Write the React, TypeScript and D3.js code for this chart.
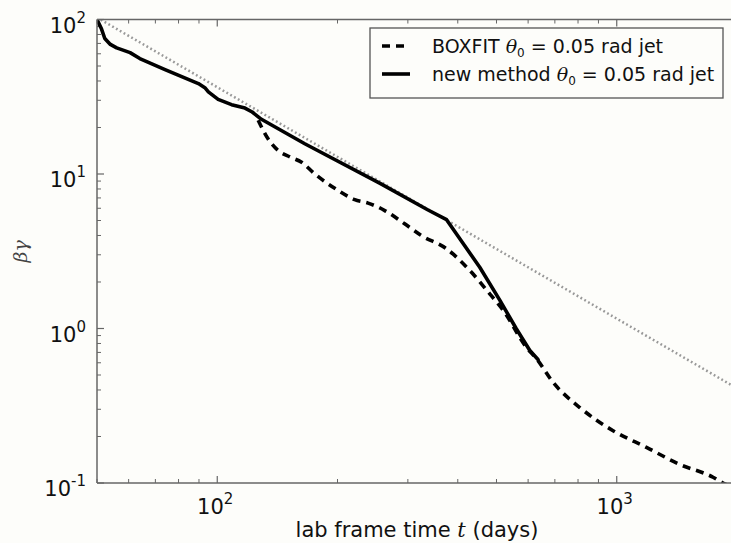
import React from "react";
import * as d3 from "d3";

const solidT = [50, 51.3, 52.3, 54, 56, 60.5, 64, 74, 89.7, 93.1, 95, 100.5, 108.6, 117.3, 122.3, 129, 165.6, 255.6, 337, 375, 454, 510, 560, 606, 635];
const solidV = [100, 87, 75.3, 69, 65.5, 61, 55.9, 47.4, 38.5, 36.2, 34, 30.4, 28.1, 26.7, 25.2, 22.6, 15.7, 8.7, 5.85, 5.06, 2.49, 1.52, 1.0, 0.72, 0.63];

const dashT = [126.6, 134, 142, 152, 162.6, 175.5, 200.7, 220.8, 238.5, 262.6, 294.5, 324, 375, 429, 481.5, 520, 594, 630, 693, 808, 979, 1187, 1437, 1742, 1845, 2000];
const dashV = [22.3, 16.9, 14.2, 12.9, 11.9, 10.0, 7.83, 6.82, 6.48, 5.8, 4.76, 4.0, 3.28, 2.37, 1.67, 1.31, 0.755, 0.636, 0.448, 0.308, 0.218, 0.17, 0.132, 0.109, 0.1, 0.092];

const dotT = [50, 2000];
const dotV = [103, 0.41];

const xMajor = [100, 1000];
const xMajorExp = ["2", "3"];
const yMajor = [0.1, 1, 10, 100];
const yMajorExp = ["-1", "0", "1", "2"];

const legendLabels = ["BOXFIT", "new method"];

export default function App() {
  const W = 731, H = 543;
  const L = 97, R = 737, T = 19.5, B = 483;
  const x = d3.scaleLog().domain([50, 2000]).range([L, R]);
  const y = d3.scaleLog().domain([0.1, 100]).range([B, T]);

  const lineLin = d3
    .line<[number, number]>()
    .x((d) => x(d[0]))
    .y((d) => y(d[1]));
  const lineSmooth = d3
    .line<[number, number]>()
    .x((d) => x(d[0]))
    .y((d) => y(d[1]))
    .curve(d3.curveMonotoneX);

  const solid = lineLin(solidT.map((t, i) => [t, solidV[i]]) as [number, number][]) || "";
  const dashed = lineSmooth(dashT.map((t, i) => [t, dashV[i]]) as [number, number][]) || "";
  const dotted = lineLin(dotT.map((t, i) => [t, dotV[i]]) as [number, number][]) || "";

  const xMinor: number[] = [];
  for (let dec = 10; dec <= 1000; dec *= 10) {
    for (let k = 2; k <= 9; k++) {
      const v = k * dec;
      if (v >= 50 && v <= 2000) xMinor.push(v);
    }
  }
  const yMinor: number[] = [];
  for (let dec = 0.1; dec < 100; dec *= 10) {
    for (let k = 2; k <= 9; k++) yMinor.push(k * dec);
  }

  const axisColor = "#666";
  const font = "'DejaVu Sans', sans-serif";

  return (
    <svg width={W} height={H} style={{ position: "absolute", left: 0, top: 0, background: "#fdfdfa" }}>
      <rect x={0} y={0} width={W} height={H} fill="#fdfdfa" />
      <defs>
        <clipPath id="plot">
          <rect x={L} y={T} width={R - L} height={B - T} />
        </clipPath>
      </defs>

      {xMajor.map((v) => (
        <g key={"xm" + v}>
          <line x1={x(v)} x2={x(v)} y1={B} y2={B - 7} stroke={axisColor} strokeWidth={1.2} />
          <line x1={x(v)} x2={x(v)} y1={T} y2={T + 7} stroke={axisColor} strokeWidth={1.2} />
        </g>
      ))}
      {xMinor.map((v) => (
        <g key={"xn" + v}>
          <line x1={x(v)} x2={x(v)} y1={B} y2={B - 4} stroke={axisColor} strokeWidth={1} />
          <line x1={x(v)} x2={x(v)} y1={T} y2={T + 4} stroke={axisColor} strokeWidth={1} />
        </g>
      ))}
      {yMajor.map((v) => (
        <line key={"ym" + v} x1={L} x2={L + 7} y1={y(v)} y2={y(v)} stroke={axisColor} strokeWidth={1.2} />
      ))}
      {yMinor.map((v) => (
        <line key={"yn" + v} x1={L} x2={L + 4} y1={y(v)} y2={y(v)} stroke={axisColor} strokeWidth={1} />
      ))}

      <g clipPath="url(#plot)">
        <path d={dotted} fill="none" stroke="#999" strokeWidth={2.5} strokeDasharray="1.8,2.6" />
        <path d={dashed} fill="none" stroke="#000" strokeWidth={3.6} strokeDasharray="8,6" />
        <path d={solid} fill="none" stroke="#000" strokeWidth={3.6} strokeLinejoin="round" strokeLinecap="round" />
      </g>

      <line x1={L} x2={L} y1={T} y2={B} stroke={axisColor} strokeWidth={1.5} />
      <line x1={L} x2={R} y1={B} y2={B} stroke={axisColor} strokeWidth={1.5} />
      <line x1={L} x2={R} y1={T} y2={T} stroke={axisColor} strokeWidth={1.5} />
      <line x1={R} x2={R} y1={T} y2={B} stroke={axisColor} strokeWidth={1.5} />

      {xMajor.map((v, i) => (
        <text key={"xl" + v} x={x(v) - 2} y={B + 31} textAnchor="middle" fontFamily={font} fontSize={21} fill="#111">
          10
          <tspan dy={-10} fontSize={15}>
            {xMajorExp[i]}
          </tspan>
        </text>
      ))}
      {yMajor.map((v, i) => (
        <text key={"yl" + v} x={86} y={y(v) + 13} textAnchor="end" fontFamily={font} fontSize={21} fill="#111">
          10
          <tspan dy={-10} fontSize={15}>
            {yMajorExp[i]}
          </tspan>
        </text>
      ))}

      <text x={(L + R) / 2} y={537} textAnchor="middle" fontFamily={font} fontSize={21} fill="#111">
        lab frame time <tspan fontFamily="'DejaVu Serif', serif" fontStyle="italic">t</tspan> (days)
      </text>
      <text
        transform={`translate(27, ${(T + B) / 2}) rotate(-90)`}
        textAnchor="middle"
        fontFamily="'DejaVu Serif', serif"
        fontStyle="italic"
        fontSize={19}
        fill="#444"
      >
        βγ
      </text>

      <rect x={370} y={28} width={353} height={70} fill="#fdfdfa" stroke="#555" strokeWidth={1.3} />
      <line x1={382} x2={410} y1={46} y2={46} stroke="#000" strokeWidth={3.6} strokeDasharray="8,6" />
      <line x1={382} x2={410} y1={74} y2={74} stroke="#000" strokeWidth={3.6} />
      {legendLabels.map((lab, i) => (
        <text key={lab} x={432} y={46 + 28 * i + 7} fontFamily={font} fontSize={19} fill="#111">
          {lab + " "}
          <tspan fontFamily="'DejaVu Serif', serif" fontStyle="italic">θ</tspan>
          <tspan dy={4} fontSize={12}>0</tspan>
          <tspan dy={-4}>{" = 0.05 rad jet"}</tspan>
        </text>
      ))}
    </svg>
  );
}
